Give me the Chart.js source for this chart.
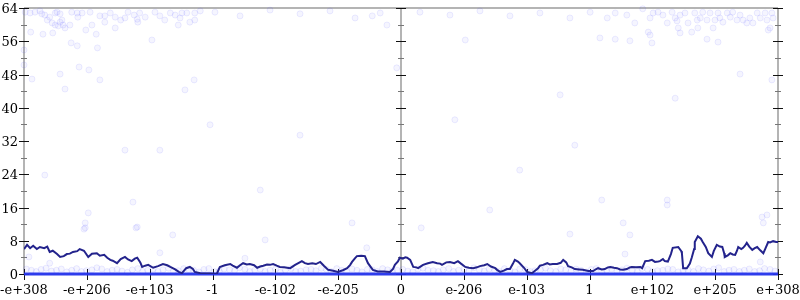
<!DOCTYPE html>
<html>
<head>
<meta charset="utf-8">
<script src="https://cdn.jsdelivr.net/npm/chart.js@4.4.1/dist/chart.umd.min.js"></script>
<style>
  html, body { margin: 0; background: #fff; }
  #wrap { width: 800px; height: 300px; }
</style>
</head>
<body>
<div id="wrap"><canvas id="myChart"></canvas></div>
<script>
"use strict";
// x is an "ordered double" position: -616 = -e+308, 0 = 0, 616 = e+308
const xTickPos = [-616, -513.3, -410.7, -308, -205.3, -102.7, 0, 102.7, 205.3, 308, 410.7, 513.3, 616];
const xTickLabels = ["-e+308", "-e+206", "-e+103", "-1", "-e-102", "-e-205", "0", "e-206", "e-103", "1", "e+102", "e+205", "e+308"];
const yMajor = [0, 8, 16, 24, 32, 40, 48, 56, 64];
const yMinor = [4, 12, 20, 28, 36, 44, 52, 60];

// running average (dark line)
const trendPoints = [
  [-616,6.0],[-611,7.0],[-606,6.2],[-601,6.8],[-595,6.0],[-590,6.5],[-583,6.2],[-578,6.6],[-574,5.3],[-569,5.6],
  [-562,4.8],[-557,4.1],[-551,4.3],[-546,4.8],[-541,4.9],[-536,5.3],[-529,5.5],[-525,6.0],[-518,5.6],[-511,4.1],
  [-505,4.9],[-497,5.0],[-492,4.4],[-485,4.6],[-480,3.9],[-475,3.4],[-471,3.2],[-464,2.6],[-458,3.6],[-451,4.1],
  [-446,3.5],[-440,3.1],[-435,3.7],[-431,3.9],[-426,2.8],[-423,1.7],[-418,2.0],[-413,2.2],[-405,1.5],[-397,1.9],
  [-389,2.4],[-382,2.1],[-377,1.7],[-369,1.1],[-363,0.5],[-358,0.2],[-351,1.4],[-345,1.7],[-340,1.2],[-337,0.5],
  [-328,0.2],[-320,0.1],[-312,0.1],[-301,0.0],[-296,1.7],[-288,2.1],[-279,2.4],[-275,2.0],[-268,1.5],[-263,2.1],
  [-258,2.6],[-252,2.3],[-247,2.4],[-240,2.1],[-235,1.5],[-230,1.8],[-225,2.0],[-219,2.3],[-214,2.2],[-209,2.4],
  [-203,2.0],[-198,1.7],[-191,1.6],[-186,1.5],[-181,1.4],[-173,2.2],[-167,2.7],[-162,3.1],[-157,2.6],[-152,2.4],
  [-145,2.6],[-139,2.4],[-132,2.9],[-126,2.0],[-119,1.0],[-111,0.8],[-103,0.5],[-95,0.9],[-88,1.4],[-83,2.2],
  [-80,2.9],[-75,3.8],[-72,4.3],[-65,4.4],[-59,4.3],[-54,2.6],[-49,1.6],[-46,1.0],[-38,0.6],[-28,0.6],
  [-18,0.5],[-13,1.2],[-10,2.2],[-5,3.0],[-2,3.9],[3,3.7],[7,4.0],[10,3.9],[15,3.4],[20,1.7],
  [25,1.6],[28,1.4],[33,1.9],[36,2.2],[44,2.6],[52,2.9],[59,2.6],[64,2.5],[67,2.2],[74,2.8],
  [80,2.9],[87,2.6],[93,3.1],[98,2.5],[105,1.7],[111,1.5],[118,1.4],[124,1.6],[129,1.9],[136,2.1],
  [141,2.4],[147,1.8],[154,1.4],[157,1.0],[162,0.5],[168,0.8],[173,1.2],[178,1.2],[183,2.5],[186,3.4],
  [191,3.0],[194,2.6],[201,1.5],[206,0.5],[214,0.2],[219,0.8],[224,1.4],[227,2.0],[232,2.2],[239,2.6],
  [243,2.3],[248,2.4],[255,2.4],[261,2.7],[265,3.4],[270,2.8],[273,1.9],[279,1.6],[284,1.2],[291,1.1],
  [297,1.0],[306,0.7],[314,0.7],[319,1.2],[322,1.4],[328,1.1],[333,1.2],[338,1.6],[342,1.7],[348,1.5],
  [353,1.4],[358,1.1],[363,1.0],[369,1.2],[374,1.6],[377,1.7],[384,1.6],[391,1.7],[394,1.4],[399,3.1],
  [405,3.2],[410,3.4],[415,2.9],[420,3.0],[423,3.1],[428,3.6],[431,3.1],[436,3.0],[441,4.8],[444,6.3],
  [453,6.5],[458,5.5],[459,5.0],[461,1.4],[467,1.4],[472,2.5],[475,3.9],[479,6.0],[480,7.7],[485,9.1],
  [490,8.5],[493,7.7],[498,6.5],[502,5.0],[508,4.1],[511,5.5],[516,7.0],[521,6.6],[525,6.5],[528,5.0],
  [529,4.1],[534,4.5],[538,5.0],[542,4.7],[546,4.6],[549,5.6],[551,6.5],[556,6.0],[559,6.3],[562,6.8],
  [565,7.5],[569,6.6],[574,5.8],[578,6.2],[582,6.5],[587,5.7],[592,5.0],[595,6.0],[600,7.7],[603,7.6],
  [608,7.9],[613,7.7],[616,7.7]
];

// individual samples (faint dots)
const samplePoints = [
  // top band, left
  [-614,63.0],[-606,62.8],[-598,63.0],[-590,63.3],[-587,62.6],[-582,62.3],[-574,61.8],[-565,62.8],[-562,63.0],[-578,61.1],
  [-570,60.4],[-557,62.6],[-554,61.1],[-552,59.9],[-549,59.2],[-557,60.6],[-565,59.9],[-560,59.7],[-541,59.9],[-538,63.0],
  [-529,62.8],[-528,61.8],[-521,62.8],[-515,58.7],[-508,63.0],[-505,59.9],[-498,57.7],[-492,62.1],[-484,62.1],[-484,60.6],
  [-475,62.8],[-467,61.8],[-467,59.2],[-458,61.1],[-451,61.6],[-446,63.0],[-436,62.3],[-431,61.3],[-427,62.8],[-430,60.6],
  [-418,61.8],[-402,63.0],[-394,62.1],[-377,62.8],[-369,62.3],[-361,61.6],[-350,62.8],[-337,62.8],[-328,63.3],[-345,60.6],
  [-337,61.1],[-364,59.9],[-386,61.1],[-358,62.8],[-605,58.2],[-585,57.7],[-569,58.0],[-616,53.9],[-616,50.3],[-603,46.9],
  [-539,55.6],[-529,54.9],[-496,54.4],[-526,49.8],[-510,49.1],[-557,48.1],[-549,44.5],[-407,56.3],[-338,46.7],
  // top band, middle
  [-304,63.0],[-263,62.1],[-214,63.5],[-165,62.6],[-116,63.3],[-75,61.6],[-34,62.8],[31,63.0],[80,62.3],[129,63.3],
  [178,62.1],[227,62.8],[276,61.6],[309,63.0],[-47,62.1],[-23,59.9],[-7,49.6],
  // top band, right
  [350,62.8],[369,62.3],[382,60.4],[395,63.8],[407,61.6],[412,62.8],[420,63.0],[428,62.3],[435,60.4],[443,63.0],
  [448,61.6],[451,60.9],[453,59.2],[456,62.3],[464,62.8],[469,60.4],[475,58.2],[480,62.8],[484,61.1],[485,59.2],
  [489,61.6],[493,63.0],[500,61.1],[505,62.8],[510,59.2],[513,61.1],[518,62.8],[521,61.6],[526,60.6],[533,62.8],
  [538,61.8],[542,63.0],[549,61.1],[554,62.3],[559,61.1],[565,60.4],[570,61.6],[575,60.4],[582,62.8],[587,61.6],
  [595,62.8],[598,61.1],[600,58.7],[606,62.8],[608,61.6],[603,59.2],[337,61.6],[325,56.8],[350,56.5],[374,56.1],
  [404,58.2],[407,57.5],[410,55.6],[456,58.0],[500,56.5],[518,55.8],[554,48.1],[606,46.7],[448,42.3],
  // scattered in between
  [-511,14.7],[-516,12.3],[-516,11.1],[-431,11.3],[-438,17.3],[-394,5.1],[-373,9.4],[-255,3.8],[-222,8.2],[-574,2.6],
  [-608,4.1],[-56,6.3],[-80,12.3],[33,11.1],[145,15.4],[328,17.8],[435,17.8],[435,16.6],[276,9.6],[363,12.3],
  [374,9.4],[366,4.8],[590,13.7],[598,14.2],[592,12.3],[587,2.9],[-518,10.8],[-433,11.1],[-394,29.8],[-353,44.3],
  [-230,20.2],[-165,33.4],[88,37.1],[194,25.0],[284,31.0],[-492,46.7],[-582,23.8],[-451,29.8],[-312,35.9],[105,56.3],
  [260,43.1],
  // band just above zero
  [-612,1.2],[-596,0.6],[-580,1.4],[-563,0.9],[-546,0.5],[-530,1.3],[-514,0.8],[-497,1.5],[-480,0.6],[-464,1.1],
  [-447,0.4],[-430,1.3],[-414,0.9],[-397,0.6],[-380,1.4],[-364,0.8],[-347,1.1],[-330,0.5],[-314,1.3],[-297,0.7],
  [-280,1.0],[-264,1.5],[-247,0.6],[-230,1.2],[-214,0.9],[-197,0.4],[-180,1.3],[-164,0.7],[-147,1.1],[-130,1.4],
  [-114,0.6],[-97,0.9],[-80,1.2],[-64,0.5],[-47,1.0],[-30,1.3],[-14,0.7],[3,1.1],[19,0.5],[36,1.4],
  [53,0.8],[69,1.0],[86,0.6],[103,1.2],[119,1.5],[136,0.7],[153,0.9],[169,1.3],[186,0.5],[203,1.1],
  [219,0.8],[236,1.4],[253,0.6],[269,1.0],[286,1.2],[303,0.5],[319,1.3],[336,0.9],[353,0.7],[369,1.4],
  [386,0.6],[403,1.1],[419,0.8],[436,1.2],[453,0.5],[469,1.0],[486,1.3],[503,0.7],[519,1.5],[536,0.9],
  [553,0.6],[569,1.2],[586,0.8],[603,1.1],
  [-604,0.9],[-588,1.1],[-571,0.7],[-555,1.2],[-538,0.9],[-522,0.6],[-505,1.0],[-489,1.2],[-472,0.9],[-456,0.7],
  [-439,1.0],[-422,0.6],[-405,1.2],[-389,1.0],[-372,0.6],[-355,1.3],[-339,0.9],[-322,1.1],[-305,0.6],[-289,1.2],
  [-272,0.8],[-255,1.1],[-239,0.9],[-222,0.6],[-205,1.2],[-189,0.9],[-172,0.6],[-155,1.0],[-139,0.8],[-122,1.1],
  [-105,1.3],[-89,0.6],[-72,0.9],[-55,1.1],[-39,0.6],[-22,1.0],[-6,0.9],[11,0.7],[28,1.2],[44,0.9],
  [61,0.6],[78,1.3],[94,0.9],[111,0.7],[128,1.0],[144,1.2],[161,0.6],[178,0.9],[194,1.2],[211,0.6],
  [228,1.0],[244,0.8],[261,1.2],[278,0.7],[294,0.9],[311,1.1],[328,0.6],[344,1.2],[361,1.0],[378,0.8],
  [394,1.3],[411,0.6],[428,0.9],[444,1.1],[461,0.8],[478,0.6],[494,1.0],[511,1.2],[528,0.6],[544,1.1],
  [561,0.9],[578,0.6],[594,1.3],[611,0.7]
];

// samples sitting exactly on zero (they merge into a solid band)
const zeroBand = [[-616, 0], [616, 0]];

const toXY = (arr) => arr.map(([x, y]) => ({ x: x, y: y }));
const labelFont = "13px 'DejaVu Serif'";

// axes, ticks and labels are drawn by hand so the plot box stays fixed
const axesPlugin = {
    id: "axes",
    beforeDatasetsDraw(chart) {
        const { ctx, chartArea: a, scales: { x, y } } = chart;
        const axisX = [a.left, Math.round(x.getPixelForValue(0)), a.right];
        ctx.save();
        ctx.strokeStyle = "#b4b4b4";
        ctx.lineWidth = 2;
        ctx.beginPath();
        axisX.forEach((px) => { ctx.moveTo(px, a.top); ctx.lineTo(px, a.bottom); });
        ctx.moveTo(a.left, a.top);
        ctx.lineTo(a.right, a.top);
        ctx.stroke();
        // minor y ticks
        ctx.lineWidth = 1;
        ctx.strokeStyle = "#777";
        ctx.beginPath();
        yMinor.forEach((v) => {
            const py = Math.round(y.getPixelForValue(v)) + 0.5;
            axisX.forEach((px) => { ctx.moveTo(px - 3, py); ctx.lineTo(px + 3, py); });
        });
        ctx.stroke();
        // major ticks
        ctx.strokeStyle = "#111";
        ctx.beginPath();
        yMajor.forEach((v) => {
            const py = Math.round(y.getPixelForValue(v)) + 0.5;
            axisX.forEach((px) => { ctx.moveTo(px - 5, py); ctx.lineTo(px + 5, py); });
        });
        xTickPos.forEach((v) => {
            const px = Math.round(x.getPixelForValue(v)) + 0.5;
            ctx.moveTo(px, a.bottom - 5);
            ctx.lineTo(px, a.bottom + 6);
        });
        ctx.stroke();
        // labels
        ctx.fillStyle = "#000";
        ctx.font = labelFont;
        ctx.textBaseline = "alphabetic";
        ctx.textAlign = "right";
        yMajor.forEach((v) => {
            ctx.fillText(String(v), a.left - 6, Math.round(y.getPixelForValue(v)) + 5);
        });
        ctx.textAlign = "center";
        xTickPos.forEach((v, i) => {
            ctx.fillText(xTickLabels[i], x.getPixelForValue(v), a.bottom + 20);
        });
        ctx.restore();
    }
};

new Chart(document.getElementById("myChart"), {
    type: "scatter",
    data: {
        datasets: [
            {
                data: toXY(trendPoints),
                showLine: true,
                borderColor: "#23238c",
                borderWidth: 2,
                pointRadius: 0,
                tension: 0
            },
            {
                data: toXY(zeroBand),
                showLine: true,
                borderColor: "rgba(35,50,235,0.95)",
                borderWidth: 3,
                pointRadius: 0,
                clip: false
            },
            {
                data: toXY(samplePoints),
                pointRadius: 3,
                backgroundColor: "rgba(80,80,255,0.06)",
                borderColor: "rgba(80,80,255,0.1)",
                borderWidth: 1,
                clip: false
            }
        ]
    },
    options: {
        responsive: true,
        maintainAspectRatio: false,
        animation: false,
        layout: { padding: { top: 8, right: 22, left: 24, bottom: 26 } },
        plugins: { legend: { display: false }, tooltip: { enabled: false } },
        scales: {
            x: { type: "linear", min: -616, max: 616, display: false },
            y: { min: 0, max: 64, display: false }
        }
    },
    plugins: [axesPlugin]
});
</script>
</body>
</html>
